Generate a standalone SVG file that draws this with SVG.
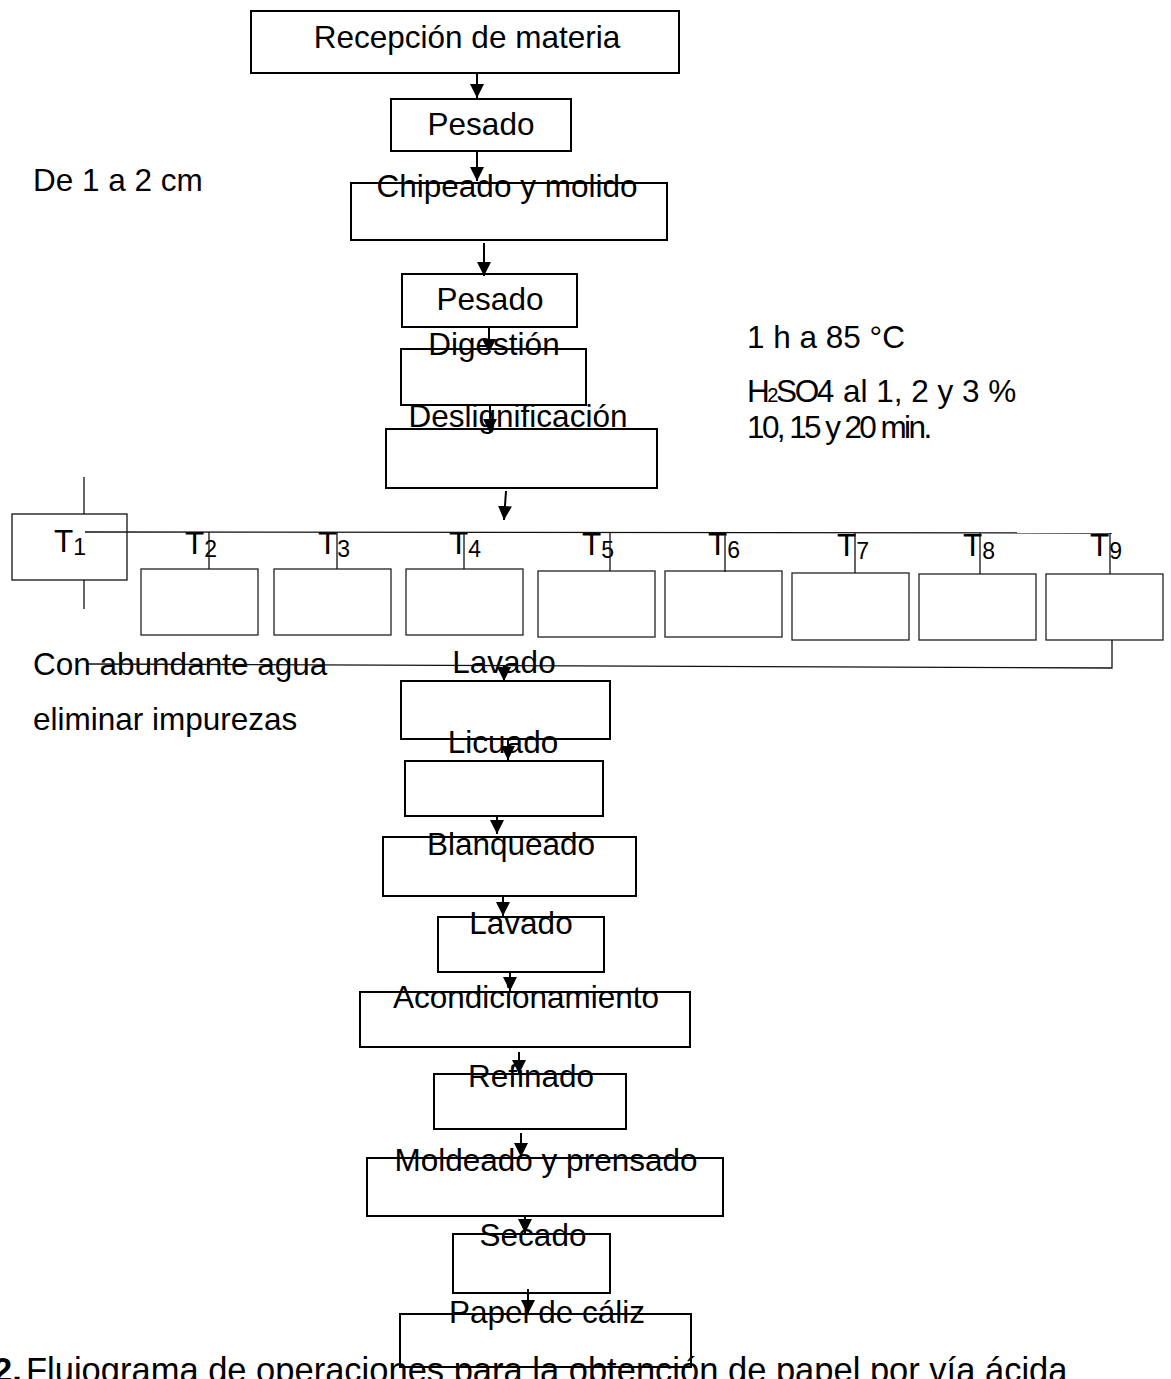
<svg xmlns="http://www.w3.org/2000/svg" width="1171" height="1379" viewBox="0 0 1171 1379">
<style>
text{font-family:"Liberation Sans",Arial,sans-serif;font-size:31.5px;fill:#000}
.c{text-anchor:middle}
.box{fill:none;stroke:#000;stroke-width:2}
.tb{fill:none;stroke:#222;stroke-width:1.3}
.ln{fill:none;stroke:#000;stroke-width:2}
.thin{fill:none;stroke:#111;stroke-width:1.3}
.sub{font-size:23px}
.cap{font-size:34.5px}
</style>
<defs>
<marker id="ah" viewBox="0 0 10 10" refX="10" refY="5" markerWidth="14" markerHeight="15" markerUnits="userSpaceOnUse" orient="auto">
<path d="M0,0 L10,5 L0,10 z" fill="#000"/>
</marker>
</defs>
<rect width="1171" height="1379" fill="#fff"/>

<g id="n-recepcion"><rect class="box" x="251" y="11" width="428" height="62"/><text class="c" x="467" y="48">Recepción de materia</text></g>
<g id="n-pesado1"><rect class="box" x="391" y="99" width="180" height="52"/><text class="c" x="481" y="135">Pesado</text></g>
<g id="n-chipeado"><rect class="box" x="351" y="183" width="316" height="57"/><text class="c" x="507" y="197">Chipeado y molido</text></g>
<g id="n-pesado2"><rect class="box" x="402" y="274" width="175" height="53"/><text class="c" x="490" y="310">Pesado</text></g>
<g id="n-digestion"><rect class="box" x="401" y="349" width="185" height="56"/><text class="c" x="494" y="355">Digestión</text></g>
<g id="n-deslig"><rect class="box" x="386" y="429" width="271" height="59"/><text class="c" x="518" y="427">Deslignificación</text></g>

<g id="n-t1"><rect class="thin" x="12" y="514" width="115" height="66"/><text x="54" y="552">T<tspan class="sub" dy="3">1</tspan></text></g>
<g id="n-t2"><rect class="tb" x="141" y="569" width="117" height="66"/><text x="185" y="554">T<tspan class="sub" dy="3">2</tspan></text></g>
<g id="n-t3"><rect class="tb" x="274" y="569" width="117" height="66"/><text x="318" y="554">T<tspan class="sub" dy="3">3</tspan></text></g>
<g id="n-t4"><rect class="tb" x="406" y="569" width="117" height="66"/><text x="449" y="554">T<tspan class="sub" dy="3">4</tspan></text></g>
<g id="n-t5"><rect class="tb" x="538" y="571" width="117" height="66"/><text x="582" y="555">T<tspan class="sub" dy="3">5</tspan></text></g>
<g id="n-t6"><rect class="tb" x="665" y="571" width="117" height="66"/><text x="708" y="555">T<tspan class="sub" dy="3">6</tspan></text></g>
<g id="n-t7"><rect class="tb" x="792" y="573" width="117" height="67"/><text x="837" y="556">T<tspan class="sub" dy="3">7</tspan></text></g>
<g id="n-t8"><rect class="tb" x="919" y="574" width="117" height="66"/><text x="963" y="556">T<tspan class="sub" dy="3">8</tspan></text></g>
<g id="n-t9"><rect class="tb" x="1046" y="574" width="117" height="66"/><text x="1090" y="556">T<tspan class="sub" dy="3">9</tspan></text></g>

<g id="n-lavado1"><rect class="box" x="401" y="681" width="209" height="58"/><text class="c" x="504" y="673">Lavado</text></g>
<g id="n-licuado"><rect class="box" x="405" y="761" width="198" height="55"/><text class="c" x="503" y="753">Licuado</text></g>
<g id="n-blanqueado"><rect class="box" x="383" y="837" width="253" height="59"/><text class="c" x="511" y="855">Blanqueado</text></g>
<g id="n-lavado2"><rect class="box" x="438" y="917" width="166" height="55"/><text class="c" x="521" y="934">Lavado</text></g>
<g id="n-acond"><rect class="box" x="360" y="992" width="330" height="55"/><text class="c" x="526" y="1008">Acondicionamiento</text></g>
<g id="n-refinado"><rect class="box" x="434" y="1074" width="192" height="55"/><text class="c" x="531" y="1087">Refinado</text></g>
<g id="n-moldeado"><rect class="box" x="367" y="1158" width="356" height="58"/><text class="c" x="546" y="1171">Moldeado y prensado</text></g>
<g id="n-secado"><rect class="box" x="453" y="1234" width="157" height="59"/><text class="c" x="533" y="1246">Secado</text></g>
<g id="n-papel"><rect class="box" x="400" y="1314" width="291" height="53"/><text class="c" x="547" y="1323">Papel de cáliz</text></g>

<g id="notes">
<text x="33" y="191">De 1 a 2 cm</text>
<text x="747" y="348">1 h a 85 °C</text>
<text x="747" y="402" letter-spacing="-2.4">H<tspan font-size="20">2</tspan>SO4</text>
<text x="843" y="402">al 1, 2 y 3 %</text>
<text x="747" y="438" letter-spacing="-2.6">10, 15 y 20 min.</text>
<text x="33" y="675">Con abundante agua</text>
<text x="33" y="730">eliminar impurezas</text>
<text class="cap" x="-7" y="1382" font-weight="bold">2.</text>
<text class="cap" x="26" y="1382">Flujograma de operaciones para la obtención de papel por vía ácida</text>
</g>

<g id="connectors">
<line class="ln" x1="477" y1="73" x2="477" y2="98" marker-end="url(#ah)"/>
<line class="ln" x1="477" y1="151" x2="477" y2="181" marker-end="url(#ah)"/>
<line class="ln" x1="484" y1="243" x2="484" y2="276" marker-end="url(#ah)"/>
<line class="ln" x1="489" y1="327" x2="489" y2="353" marker-end="url(#ah)"/>
<line class="ln" x1="490" y1="405" x2="490" y2="433" marker-end="url(#ah)"/>
<line class="ln" x1="506" y1="491" x2="504" y2="520" marker-end="url(#ah)"/>
<polyline class="thin" points="84,477 84,514"/>
<polyline class="thin" points="84,580 84,609"/>
<polyline class="thin" points="85,532 1112,533"/>
<line class="thin" x1="209" y1="532" x2="209" y2="569"/>
<line class="thin" x1="337" y1="532" x2="337" y2="569"/>
<line class="thin" x1="464" y1="532" x2="464" y2="569"/>
<line class="thin" x1="610" y1="532" x2="610" y2="571"/>
<line class="thin" x1="725" y1="532" x2="725" y2="572"/>
<line class="thin" x1="855" y1="533" x2="855" y2="573"/>
<line class="thin" x1="980" y1="533" x2="980" y2="574"/>
<line class="thin" x1="1110" y1="533" x2="1110" y2="574"/>
<polyline class="thin" points="1112,640 1112,668 88,664"/>
<line class="ln" x1="504" y1="665" x2="504" y2="681" marker-end="url(#ah)"/>
<line class="ln" x1="508" y1="740" x2="508" y2="760" marker-end="url(#ah)"/>
<line class="ln" x1="497" y1="817" x2="497" y2="834" marker-end="url(#ah)"/>
<line class="ln" x1="503" y1="896" x2="503" y2="916" marker-end="url(#ah)"/>
<line class="ln" x1="510" y1="972" x2="510" y2="991" marker-end="url(#ah)"/>
<line class="ln" x1="519" y1="1052" x2="519" y2="1074" marker-end="url(#ah)"/>
<line class="ln" x1="521" y1="1133" x2="521" y2="1157" marker-end="url(#ah)"/>
<line class="ln" x1="525" y1="1216" x2="525" y2="1233" marker-end="url(#ah)"/>
<line class="ln" x1="528" y1="1289" x2="528" y2="1314" marker-end="url(#ah)"/>
</g>
</svg>
